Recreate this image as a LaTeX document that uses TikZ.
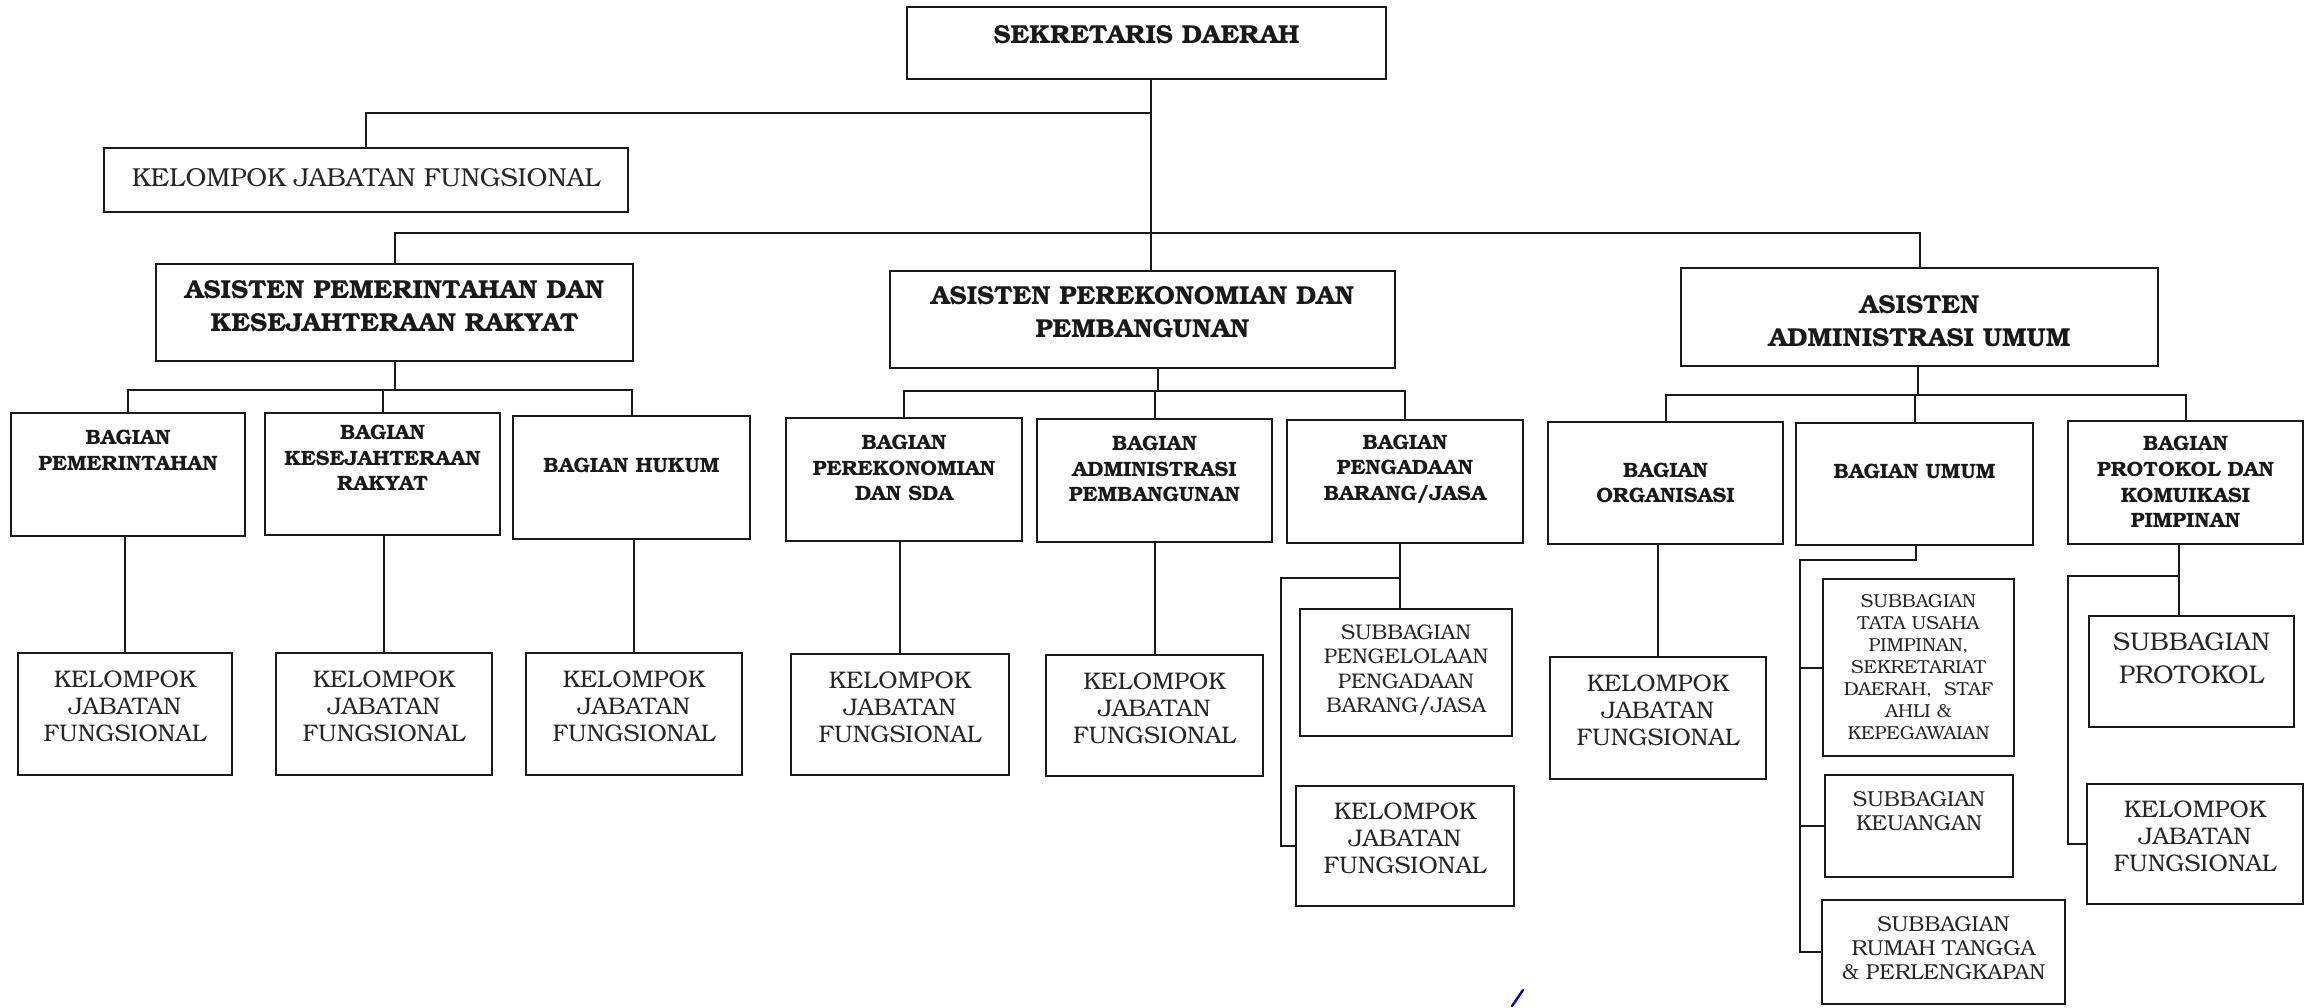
\documentclass[tikz,border=0pt]{standalone}
\usepackage{fontspec}
\setmainfont{TeX Gyre Bonum}
\usetikzlibrary{calc}
\newcommand{\orgbox}[9]{%
  \node[#1, minimum width={#6*0.5pt}, minimum height={#7*0.5pt}] (#3) at (#4,#5) {};
  \node[#2] (#3-t) at (#4,#8) {#9};}
\tikzset{
  bx/.style={draw=black!90, line width=1.3pt, inner sep=0pt},
  sbx/.style={draw=black!90, line width=1pt, inner sep=0pt},
  ln/.style={draw=black!90, line width=1pt},
  ttl/.style={font=\fontsize{13}{16.5}\selectfont\bfseries, align=center, inner sep=0pt, text=black!90},
  bag/.style={font=\fontsize{10.4}{12.8}\selectfont\bfseries, align=center, inner sep=0pt, text=black!90},
  kjf/.style={font=\fontsize{12}{13.5}\selectfont, align=center, inner sep=0pt, text=black!85},
  kjftop/.style={font=\fontsize{13}{15}\selectfont, align=center, inner sep=0pt, text=black!85},
  stxt/.style={font=\fontsize{9.4}{11}\selectfont, align=center, inner sep=0pt, text=black!85},
  sptxt/.style={font=\fontsize{10.6}{12.2}\selectfont, align=center, inner sep=0pt, text=black!85},
  sktxt/.style={font=\fontsize{10.8}{12}\selectfont, align=center, inner sep=0pt, text=black!85},
  sprtxt/.style={font=\fontsize{12.8}{16.5}\selectfont, align=center, inner sep=0pt, text=black!85},
}
\begin{document}
\begin{tikzpicture}[x=0.5pt,y=-0.5pt]
\useasboundingbox (0,0) rectangle (2311,1007);
% top level
\orgbox{bx}{ttl}{sekda}{1146.5}{43}{479}{72}{35}{SEKRETARIS DAERAH}
\orgbox{bx}{kjftop}{kjf0}{366}{180}{524}{64}{178}{KELOMPOK JABATAN FUNGSIONAL}
% assistants
\orgbox{bx}{ttl}{as1}{394.5}{312.5}{477}{97}{306}{ASISTEN PEMERINTAHAN DAN\\KESEJAHTERAAN RAKYAT}
\orgbox{bx}{ttl}{as2}{1142.5}{319.5}{505}{97}{312}{ASISTEN PEREKONOMIAN DAN\\PEMBANGUNAN}
\orgbox{bx}{ttl}{as3}{1919.5}{317}{477}{98}{321}{ASISTEN\\ADMINISTRASI UMUM}
% bagian
\orgbox{sbx}{bag}{bpem}{128}{474.5}{234}{123}{450}{BAGIAN\\PEMERINTAHAN}
\orgbox{sbx}{bag}{bkes}{382.5}{474}{235}{122}{458}{BAGIAN\\KESEJAHTERAAN\\RAKYAT}
\orgbox{sbx}{bag}{bhuk}{631.5}{477.5}{237}{123}{465}{BAGIAN HUKUM}
\orgbox{sbx}{bag}{bper}{904}{479.5}{236}{123}{468}{BAGIAN\\PEREKONOMIAN\\DAN SDA}
\orgbox{sbx}{bag}{badm}{1154.5}{480.5}{235}{123}{469}{BAGIAN\\ADMINISTRASI\\PEMBANGUNAN}
\orgbox{sbx}{bag}{bpeng}{1405}{481.5}{236}{123}{469}{BAGIAN\\PENGADAAN\\BARANG/JASA}
\orgbox{sbx}{bag}{borg}{1665.5}{483}{235}{122}{483}{BAGIAN\\ORGANISASI}
\orgbox{sbx}{bag}{bumum}{1914.5}{484}{237}{122}{471}{BAGIAN UMUM}
\orgbox{sbx}{bag}{bprot}{2185.5}{482.5}{235}{123}{482}{BAGIAN\\PROTOKOL DAN\\KOMUIKASI\\PIMPINAN}
% lower boxes
\orgbox{sbx}{kjf}{k1}{125}{714}{214}{122}{706}{KELOMPOK\\JABATAN\\FUNGSIONAL}
\orgbox{sbx}{kjf}{k2}{384}{714}{216}{122}{706}{KELOMPOK\\JABATAN\\FUNGSIONAL}
\orgbox{sbx}{kjf}{k3}{634}{714}{216}{122}{706}{KELOMPOK\\JABATAN\\FUNGSIONAL}
\orgbox{sbx}{kjf}{k4}{900}{714.5}{218}{121}{707}{KELOMPOK\\JABATAN\\FUNGSIONAL}
\orgbox{sbx}{kjf}{k5}{1154.5}{715.5}{217}{121}{708}{KELOMPOK\\JABATAN\\FUNGSIONAL}
\orgbox{sbx}{sptxt}{spbj}{1406}{672.5}{212}{127}{670}{SUBBAGIAN\\PENGELOLAAN\\PENGADAAN\\BARANG/JASA}
\orgbox{sbx}{kjf}{k6}{1405}{846}{218}{120}{838}{KELOMPOK\\JABATAN\\FUNGSIONAL}
\orgbox{sbx}{kjf}{k7}{1658}{718}{216}{122}{710}{KELOMPOK\\JABATAN\\FUNGSIONAL}
\orgbox{sbx}{stxt}{stu}{1918.5}{667.5}{191}{177}{667}{SUBBAGIAN\\TATA USAHA\\PIMPINAN,\\SEKRETARIAT\\DAERAH,~~STAF\\AHLI \&\\KEPEGAWAIAN}
\orgbox{sbx}{sktxt}{skeu}{1919}{826}{188}{102}{811}{SUBBAGIAN\\KEUANGAN}
\orgbox{sbx}{sktxt}{srt}{1943.5}{952}{243}{104}{948}{SUBBAGIAN\\RUMAH TANGGA\\\& PERLENGKAPAN}
\orgbox{sbx}{sprtxt}{sprot}{2191.5}{671.5}{205}{111}{658}{SUBBAGIAN\\PROTOKOL}
\orgbox{sbx}{kjf}{k8}{2195}{844}{216}{120}{836}{KELOMPOK\\JABATAN\\FUNGSIONAL}
% connectors: top
\coordinate (spine) at (1151,0);
\coordinate (j0) at (1151,113);
\coordinate (j1) at (1151,233);
\draw[ln] (sekda.south -| spine) -- (as2.north -| spine);
\draw[ln] (j0) -| (kjf0.north);
\draw[ln] (as1.north) |- (j1) -| (as3.north);
% group 1
\coordinate (g1) at (385,390);
\draw[ln] (as1.south) -- (as1.south |- g1);
\draw[ln] (bpem.north) |- (g1) -| (bhuk.north);
\draw[ln] (bkes.north) -- (bkes.north |- g1);
% group 2
\coordinate (g2) at (1158,391);
\draw[ln] (as2.south -| g2) -- (g2);
\draw[ln] (bper.north) |- (g2) -| (bpeng.north);
\draw[ln] (badm.north) -- (badm.north |- g2);
% group 3
\coordinate (g3) at (1918,395);
\draw[ln] (as3.south -| g3) -- (g3);
\draw[ln] (borg.north) |- (g3) -| (bprot.north);
\draw[ln] (bumum.north) -- (bumum.north |- g3);
% bagian to kelompok
\draw[ln] (k1.north |- bpem.south) -- (k1.north);
\draw[ln] (k2.north |- bkes.south) -- (k2.north);
\draw[ln] (k3.north |- bhuk.south) -- (k3.north);
\draw[ln] (k4.north |- bper.south) -- (k4.north);
\draw[ln] (k5.north |- badm.south) -- (k5.north);
\draw[ln] (k7.north |- borg.south) -- (k7.north);
% pengadaan
\coordinate (p1) at (1400,578);
\coordinate (pr) at (1281,0);
\draw[ln] (bpeng.south -| p1) -- (spbj.north -| p1);
\draw[ln] (p1) -| (k6.west -| pr) -- (k6.west);
% umum
\coordinate (u1) at (1916,560);
\coordinate (ur) at (1800,0);
\draw[ln] (bumum.south -| u1) -- (u1) -| (srt.west -| ur) -- (srt.west);
\draw[ln] (stu.west -| ur) -- (stu.west);
\draw[ln] (skeu.west -| ur) -- (skeu.west);
% protokol
\coordinate (q1) at (2179,576);
\coordinate (qr) at (2068,0);
\draw[ln] (bprot.south -| q1) -- (sprot.north -| q1);
\draw[ln] (q1) -| (k8.west -| qr) -- (k8.west);
% paraf stroke
\draw[blue!70!black, line width=1.2pt, line cap=round] (1512,1006) -- (1523,990);
\end{tikzpicture}
\end{document}
